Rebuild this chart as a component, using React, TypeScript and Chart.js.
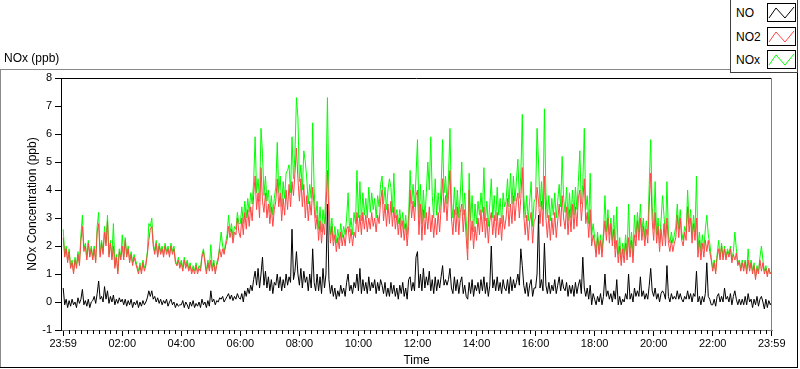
import React, { useEffect, useRef } from "react";
import { Chart, registerables } from "chart.js";

Chart.register(...registerables);

// Sampling step of the series below (minutes after 23:59 of the previous day)
const SAMPLE_STEP_MIN = 3;

// NO2 (ppb), one row per hour (20 samples of 3 min), last value = 23:59
const NO2_VALUES = [
  2.3, 1.6, 1.9, 1.4, 1.8, 1.2, 1.4, 1.0, 1.5, 1.2, 1.7, 1.3, 2.2, 2.7, 1.8, 2.0, 1.5, 2.1, 1.6, 1.9,
  1.5, 1.9, 1.4, 2.5, 2.8, 1.6, 2.1, 1.7, 2.5, 2.0, 2.9, 1.6, 2.1, 1.5, 2.0, 1.2, 1.6, 1.0, 1.8, 1.5,
  2.0, 1.5, 2.2, 1.6, 1.9, 1.4, 1.7, 1.3, 1.6, 1.4, 1.2, 1.0, 1.3, 1.0, 1.4, 1.1, 1.3, 1.7, 2.2, 2.6,
  2.7, 2.0, 1.7, 2.1, 1.6, 2.0, 1.7, 1.9, 1.6, 2.0, 1.7, 1.9, 1.6, 2.0, 1.7, 1.9, 1.4, 1.3, 1.5, 1.2,
  1.4, 1.1, 1.5, 1.2, 1.4, 1.1, 1.3, 1.0, 1.2, 1.0, 1.3, 1.0, 1.2, 1.1, 1.6, 1.8, 1.4, 1.0, 1.4, 1.1,
  1.5, 1.1, 1.4, 1.0, 1.3, 1.5, 1.9, 1.6, 1.9, 1.7, 2.0, 2.2, 2.7, 2.3, 2.6, 2.1, 2.5, 2.4, 3.0, 2.5,
  2.3, 3.0, 2.4, 3.2, 2.6, 3.3, 2.7, 3.4, 2.9, 3.8, 4.5, 3.3, 3.9, 3.0, 4.8, 3.6, 3.2, 3.9, 3.0, 3.5,
  2.8, 3.4, 2.7, 3.3, 3.6, 4.4, 3.4, 3.9, 2.9, 3.7, 3.1, 4.0, 3.3, 4.2, 3.4, 4.3, 3.8, 4.6, 5.5, 4.4,
  3.6, 4.4, 3.4, 4.2, 3.0, 3.8, 2.9, 3.6, 3.1, 4.1, 3.4, 2.6, 3.1, 2.2, 2.9, 2.1, 2.8, 2.4, 3.3, 4.7,
  3.0, 2.1, 2.7, 2.0, 2.4, 1.8, 2.3, 1.9, 2.5, 2.0, 2.4, 2.0, 2.6, 2.7, 2.1, 2.6, 2.0, 2.5, 2.3, 3.2,
  2.5, 3.1, 2.4, 3.2, 2.6, 3.1, 2.5, 3.0, 2.6, 3.2, 2.7, 3.0, 2.5, 3.1, 2.8, 3.6, 4.0, 2.9, 3.5, 2.7,
  3.5, 2.8, 3.6, 2.7, 3.4, 2.6, 3.1, 2.4, 3.0, 2.3, 2.9, 2.2, 2.8, 2.0, 2.7, 4.0, 3.0, 3.6, 2.9, 3.8,
  4.0, 2.4, 3.5, 2.2, 3.3, 2.4, 3.2, 2.6, 3.4, 2.5, 3.1, 2.3, 3.0, 2.4, 3.2, 2.5, 3.4, 4.4, 3.2, 3.8,
  2.9, 3.8, 4.7, 3.0, 2.4, 3.3, 2.5, 3.4, 2.4, 3.2, 3.5, 2.5, 3.3, 2.3, 1.5, 4.0, 2.2, 2.9, 1.9, 2.7,
  2.2, 3.0, 2.4, 3.3, 2.5, 3.4, 2.3, 3.0, 2.1, 2.9, 3.2, 2.4, 3.1, 2.3, 3.2, 2.4, 3.0, 2.2, 3.1, 2.6,
  3.0, 3.7, 2.7, 3.5, 2.8, 3.8, 2.9, 3.6, 3.9, 3.0, 3.7, 4.8, 3.1, 2.4, 3.1, 2.2, 2.9, 3.2, 2.1, 2.9,
  3.0, 4.1, 3.6, 2.8, 3.6, 2.7, 4.5, 3.0, 2.3, 3.1, 2.2, 3.0, 2.4, 3.2, 2.3, 2.9, 3.5, 2.7, 3.8, 3.0,
  2.6, 3.4, 2.4, 3.3, 2.5, 3.5, 2.6, 3.4, 2.7, 3.7, 4.0, 2.9, 3.6, 4.4, 2.8, 3.2, 2.3, 3.3, 2.0, 2.4,
  2.1, 1.6, 2.3, 1.7, 2.2, 1.6, 2.3, 2.9, 2.2, 3.0, 2.1, 2.8, 2.0, 2.6, 1.6, 2.2, 1.4, 2.0, 1.3, 1.9,
  1.4, 2.1, 1.5, 2.3, 1.6, 2.2, 1.4, 2.4, 2.0, 2.9, 2.2, 3.0, 2.2, 2.7, 2.0, 2.6, 2.1, 3.5, 4.6, 2.9,
  2.2, 3.2, 2.1, 2.7, 1.8, 2.6, 2.0, 2.8, 2.0, 3.0, 2.1, 1.8, 2.2, 1.8, 2.1, 2.3, 3.1, 2.3, 3.0, 2.2,
  2.0, 2.5, 2.2, 3.4, 2.5, 3.0, 2.1, 2.8, 2.2, 3.0, 1.6, 2.2, 1.5, 2.1, 1.6, 2.2, 1.8, 2.2, 1.8, 1.5,
  1.1, 1.4, 1.0, 1.6, 1.9, 1.5, 2.0, 1.5, 1.9, 1.5, 1.8, 1.6, 1.9, 1.4, 1.7, 1.5, 1.75, 1.3, 1.45, 1.1,
  1.4, 1.1, 1.45, 1.0, 1.5, 1.1, 1.4, 1.0, 1.3, 0.8, 1.2, 1.0, 1.5, 1.1, 1.4, 1.0, 1.2, 0.9, 1.2, 1.0,
  1.1,
];

// NOx (ppb)
const NOX_VALUES = [
  2.6, 1.7, 2.0, 1.5, 1.9, 1.3, 1.5, 1.1, 1.6, 1.3, 1.8, 1.4, 2.4, 3.1, 1.9, 2.1, 1.6, 2.2, 1.7, 2.0,
  1.6, 2.0, 1.5, 2.7, 3.2, 1.7, 2.2, 1.8, 2.7, 2.1, 3.1, 1.7, 2.2, 1.6, 2.8, 1.3, 1.7, 1.1, 1.9, 1.6,
  2.4, 1.6, 2.3, 1.7, 2.0, 1.5, 1.8, 1.4, 1.7, 1.5, 1.3, 1.1, 1.4, 1.1, 1.5, 1.2, 1.4, 1.8, 2.8, 2.7,
  3.0, 2.1, 1.8, 2.2, 1.7, 2.1, 1.8, 2.0, 1.7, 2.1, 1.8, 2.0, 1.7, 2.1, 1.8, 2.0, 1.5, 1.3, 1.6, 1.3,
  1.5, 1.2, 1.6, 1.3, 1.5, 1.2, 1.4, 1.1, 1.3, 1.1, 1.4, 1.1, 1.3, 1.2, 1.7, 1.9, 1.5, 1.1, 1.5, 1.2,
  2.05, 1.2, 1.5, 1.1, 1.4, 1.6, 2.0, 2.5, 2.0, 1.8, 2.1, 2.4, 3.1, 2.5, 2.8, 2.3, 2.7, 2.6, 3.2, 2.8,
  2.8, 3.4, 2.8, 3.6, 3.0, 3.7, 3.2, 3.9, 3.5, 4.3, 5.9, 3.9, 4.4, 3.6, 6.2, 5.3, 3.8, 4.5, 3.6, 4.0,
  3.2, 3.8, 3.1, 3.7, 4.1, 5.7, 3.9, 4.5, 3.4, 4.3, 3.7, 4.6, 4.7, 4.9, 3.9, 5.9, 4.4, 5.3, 7.3, 6.6,
  4.3, 4.9, 4.0, 5.4, 5.0, 4.4, 3.5, 4.2, 3.7, 6.4, 4.0, 3.0, 3.6, 2.6, 3.4, 2.5, 3.3, 2.8, 4.0, 7.3,
  3.6, 2.4, 3.0, 2.2, 2.7, 2.1, 2.6, 2.2, 2.8, 2.3, 2.7, 2.4, 3.0, 3.9, 2.5, 3.0, 2.4, 3.2, 2.8, 4.7,
  3.0, 4.3, 2.9, 3.9, 3.1, 3.7, 3.0, 4.1, 3.2, 3.9, 3.3, 3.7, 3.0, 3.8, 3.4, 4.2, 4.5, 3.5, 4.1, 3.3,
  4.0, 4.4, 4.1, 3.2, 4.6, 3.0, 3.3, 2.8, 3.3, 2.7, 3.2, 2.6, 3.1, 2.4, 3.1, 4.7, 3.5, 4.2, 3.4, 4.5,
  5.8, 3.0, 4.2, 2.8, 4.0, 3.0, 3.9, 5.0, 4.0, 5.9, 3.8, 3.0, 4.4, 3.1, 3.9, 3.2, 4.1, 5.8, 3.9, 4.5,
  3.5, 4.4, 6.2, 3.6, 3.0, 4.1, 3.1, 4.0, 3.0, 3.8, 5.0, 3.1, 3.9, 2.9, 1.9, 4.6, 2.9, 3.8, 2.5, 3.5,
  2.8, 3.6, 3.1, 3.9, 3.2, 4.8, 2.9, 3.6, 2.7, 3.5, 4.4, 3.0, 3.8, 2.9, 4.1, 3.1, 3.7, 2.8, 3.9, 3.4,
  3.6, 4.4, 3.4, 4.6, 3.5, 4.5, 3.6, 4.3, 5.1, 3.7, 4.5, 6.7, 3.8, 3.0, 3.8, 2.9, 3.6, 4.3, 2.7, 3.6,
  3.7, 6.2, 5.0, 3.4, 4.3, 3.3, 6.9, 3.9, 3.0, 3.8, 2.9, 3.7, 3.1, 3.9, 3.0, 3.6, 4.2, 3.4, 5.2, 3.7,
  3.2, 4.1, 2.9, 3.9, 3.0, 4.0, 3.1, 4.1, 3.3, 4.3, 5.4, 3.5, 4.2, 6.2, 3.3, 3.8, 2.8, 4.6, 2.4, 2.8,
  2.3, 1.8, 2.5, 1.9, 2.4, 1.8, 2.5, 3.8, 2.5, 3.3, 2.4, 3.0, 2.2, 3.1, 1.9, 3.4, 1.7, 2.3, 1.5, 2.1,
  1.7, 2.4, 1.7, 3.5, 1.9, 2.5, 1.7, 3.1, 2.3, 3.2, 2.5, 3.5, 2.5, 3.0, 2.3, 2.9, 2.4, 4.2, 5.8, 3.4,
  2.6, 4.3, 2.4, 3.0, 2.1, 2.9, 3.8, 3.1, 2.3, 4.3, 2.4, 2.1, 2.5, 2.1, 2.4, 2.7, 3.5, 2.6, 3.3, 2.5,
  2.2, 2.7, 2.5, 4.0, 2.8, 3.3, 2.4, 3.1, 2.5, 4.5, 1.9, 2.5, 1.8, 2.4, 1.9, 2.6, 3.1, 2.4, 2.1, 1.6,
  1.2, 1.5, 1.1, 1.7, 2.2, 1.6, 2.1, 1.6, 2.0, 1.6, 1.9, 1.7, 2.0, 1.5, 1.8, 2.5, 1.9, 1.4, 1.5, 1.2,
  1.5, 1.2, 1.5, 1.1, 1.9, 1.2, 1.5, 1.1, 1.4, 0.9, 1.3, 1.1, 1.6, 2.0, 1.5, 1.1, 1.3, 1.0, 1.2, 1.0,
  1.1,
];

// NO (ppb)
const NO_VALUES = [
  0.5, -0.1, 0.1, -0.2, 0.05, -0.15, 0.1, -0.1, 0.0, -0.2, 0.15, -0.05, 0.1, 0.45, -0.1, 0.05, -0.15, 0.1, -0.2, 0.0,
  0.05, 0.2, -0.05, 0.3, 0.75, 0.1, 0.2, 0.0, 0.55, 0.1, 0.4, -0.05, 0.2, 0.0, 0.25, -0.1, 0.1, -0.05, 0.15, 0.0,
  0.1, -0.1, 0.1, -0.15, 0.05, -0.1, 0.1, -0.2, 0.0, -0.1, 0.05, -0.2, 0.0, -0.15, 0.05, -0.1, 0.0, 0.15, 0.4, 0.2,
  0.4, 0.1, 0.2, 0.0, 0.15, -0.05, 0.1, -0.1, 0.05, -0.05, 0.1, -0.15, 0.0, 0.1, -0.1, 0.0, -0.2, -0.05, -0.15, -0.1,
  -0.1, 0.05, -0.2, 0.0, -0.1, -0.25, 0.0, -0.15, 0.05, -0.2, -0.05, -0.15, 0.0, -0.2, 0.1, -0.1, 0.0, -0.2, 0.05, -0.15,
  0.4, 0.0, 0.1, -0.1, 0.05, 0.0, 0.15, 0.1, 0.2, 0.0, 0.1, 0.2, 0.3, 0.1, 0.25, 0.05, 0.2, 0.1, 0.3, 0.15,
  0.1, 0.3, 0.0, 0.4, 0.2, 0.5, 0.3, 0.6, 0.4, 0.8, 1.1, 0.6, 1.2, 0.5, 1.0, 1.6, 0.6, 1.1, 0.5, 0.9,
  0.4, 0.8, 0.3, 0.7, 0.6, 1.0, 0.5, 0.9, 0.4, 0.8, 0.5, 1.0, 0.6, 0.9, 0.7, 2.6, 0.8, 1.1, 1.8, 1.0,
  0.6, 1.2, 0.5, 1.1, 0.7, 0.9, 0.4, 1.0, 0.5, 1.9, 0.7, 0.4, 1.0, 0.4, 0.9, 0.3, 1.2, 0.5, 1.0, 3.5,
  0.8, 0.3, 0.6, 0.2, 0.5, 0.1, 0.4, 0.2, 0.6, 0.3, 0.5, 0.2, 0.7, 1.0, 0.4, 0.6, 0.3, 0.7, 0.5, 1.0,
  0.4, 1.2, 0.3, 0.8, 0.4, 0.7, 0.3, 0.9, 0.4, 0.7, 0.5, 0.8, 0.3, 0.7, 0.4, 0.8, 0.6, 0.3, 0.7, 0.2,
  0.5, 0.2, 0.7, 0.3, 0.6, 0.2, 0.5, 0.1, 0.6, 0.3, 0.7, 0.2, 0.5, 0.1, 0.8, 0.9, 0.4, 0.7, 0.4, 1.6,
  1.8, 0.5, 1.0, 0.4, 1.2, 0.5, 0.9, 0.6, 1.1, 0.4, 0.8, 0.3, 0.9, 0.4, 0.8, 0.5, 0.9, 1.3, 0.6, 0.8,
  0.6, 0.8, 1.2, 0.5, 0.3, 0.9, 0.4, 0.8, 0.3, 0.7, 0.9, 0.3, 0.6, 0.2, 0.1, 0.7, 0.3, 0.8, 0.2, 0.6,
  0.4, 0.7, 0.3, 0.8, 0.4, 0.9, 0.3, 0.7, 0.2, 0.6, 2.0, 0.5, 0.8, 0.4, 0.9, 0.4, 0.7, 0.3, 0.8, 0.5,
  0.4, 0.8, 0.3, 0.9, 0.4, 0.8, 0.5, 0.7, 1.0, 0.6, 1.9, 1.3, 0.6, 0.3, 0.7, 0.2, 0.6, 0.8, 0.2, 0.5,
  0.5, 1.0, 3.1, 0.5, 0.8, 0.4, 2.1, 0.6, 0.3, 0.7, 0.3, 0.6, 0.4, 0.8, 0.3, 0.6, 0.9, 0.4, 0.8, 0.5,
  0.4, 0.7, 0.2, 0.6, 0.3, 0.6, 0.2, 0.7, 0.3, 0.6, 0.8, 0.3, 1.6, 0.5, 0.2, 0.5, 0.1, 0.6, -0.1, 0.3,
  0.1, -0.1, 0.2, 0.0, 0.3, -0.1, 0.2, 1.0, 0.2, 0.4, 0.1, 0.3, 0.0, 0.4, 0.1, 0.8, -0.1, 0.2, -0.1, 0.1,
  0.0, 0.3, 0.1, 1.0, 0.1, 0.3, 0.0, 0.5, 0.2, 0.4, 0.2, 0.9, 0.2, 0.4, 0.1, 0.3, 0.1, 0.6, 1.2, 0.4,
  0.2, 0.5, 0.1, 0.3, 0.0, 0.3, 0.4, 0.3, 0.1, 1.3, 0.2, 0.0, 0.3, 0.1, 0.2, 0.1, 0.4, 0.1, 0.3, 0.1,
  0.0, 0.2, 0.1, 0.4, 0.1, 0.3, 0.0, 0.3, 0.2, 1.1, 0.0, 0.2, -0.1, 0.2, 0.0, 0.3, 1.4, 0.2, 0.1, -0.1,
  -0.1, 0.1, -0.15, 0.2, 0.3, 0.0, 0.2, 0.0, 0.5, 0.1, 0.2, 0.0, 0.3, -0.1, 0.2, 0.4, 0.1, -0.1, 0.1, -0.1,
  0.1, -0.1, 0.2, -0.1, 0.3, 0.0, 0.1, -0.2, 0.1, -0.1, 0.2, -0.15, 0.1, 0.2, 0.0, -0.25, 0.1, -0.2, 0.05, -0.1,
  0.0,
];

// Axis ticks
const X_MAJOR_TICKS = [0, 120, 240, 360, 480, 600, 720, 840, 960, 1080, 1200, 1320, 1440];
const X_TICK_LABELS = ["23:59", "02:00", "04:00", "06:00", "08:00", "10:00", "12:00", "14:00", "16:00", "18:00", "20:00", "22:00", "23:59"];
const X_MINOR_STEP = 12;
const Y_TICKS = [-1, 0, 1, 2, 3, 4, 5, 6, 7, 8];

const SERIES_NAMES = ["NO", "NO2", "NOx"];
const SERIES_COLORS = ["#000000", "#ff4545", "#00ff00"];

const FONT = "'Liberation Sans', Arial, sans-serif";

const framePlugin = {
  id: "labviewFrame",
  afterDraw(chart: any) {
    const { ctx, chartArea } = chart;
    const { left, right, top, bottom } = chartArea;
    const xs = chart.scales.x;
    ctx.save();
    ctx.lineWidth = 1;
    ctx.strokeStyle = "#000";
    ctx.beginPath();
    ctx.moveTo(left, Math.round(top) + 0.5);
    ctx.lineTo(right, Math.round(top) + 0.5);
    ctx.stroke();
    ctx.strokeStyle = "#808080";
    ctx.beginPath();
    ctx.moveTo(Math.round(right) - 0.5, top);
    ctx.lineTo(Math.round(right) - 0.5, bottom);
    ctx.stroke();
    ctx.strokeStyle = "#000";
    ctx.beginPath();
    for (let m = 0; m <= 1440; m += X_MINOR_STEP) {
      if (X_MAJOR_TICKS.includes(m)) continue;
      const px = Math.round(xs.getPixelForValue(m)) + 0.5;
      ctx.moveTo(px, Math.round(bottom));
      ctx.lineTo(px, Math.round(bottom) + 4);
    }
    ctx.stroke();
    ctx.restore();
  },
};

function Swatch({ color }: { color: string }) {
  return (
    <svg width={29} height={19} style={{ display: "block" }}>
      <rect x={0.5} y={0.5} width={28} height={18} fill="#fff" stroke="#000" strokeWidth={1} />
      <polyline points="2,15 9,5 18,15 27,4" fill="none" stroke={color} strokeWidth={1} />
    </svg>
  );
}

export default function App() {
  const ref = useRef<HTMLCanvasElement | null>(null);

  useEffect(() => {
    if (!ref.current) return;
    const minutes = NO_VALUES.map((_, i) => i * SAMPLE_STEP_MIN);
    const pts = (vals: number[]) => vals.map((v, i) => ({ x: minutes[i], y: v }));
    const seriesValues = [NO_VALUES, NO2_VALUES, NOX_VALUES];

    const chart = new Chart(ref.current, {
      type: "line",
      data: {
        datasets: SERIES_NAMES.map((name, k) => ({
          label: name,
          data: pts(seriesValues[k]),
          borderColor: SERIES_COLORS[k],
          backgroundColor: SERIES_COLORS[k],
          borderWidth: 1,
          pointRadius: 0,
          tension: 0,
          fill: false,
        })),
      },
      options: {
        animation: false,
        responsive: false,
        devicePixelRatio: 1,
        events: [],
        layout: { padding: { left: 0, right: 28, top: 78, bottom: 0 } },
        plugins: {
          legend: { display: false },
          tooltip: { enabled: false },
          title: { display: false },
        },
        scales: {
          x: {
            type: "linear",
            min: -4.5,
            max: 1440.5,
            afterFit: (s: any) => {
              s.height = 39;
            },
            afterBuildTicks: (s: any) => {
              s.ticks = X_MAJOR_TICKS.map((v) => ({ value: v }));
            },
            ticks: {
              autoSkip: false,
              maxRotation: 0,
              padding: 1,
              color: "#000",
              font: { family: FONT, size: 11 },
              callback: (v: any) => {
                const i = X_MAJOR_TICKS.indexOf(Number(v));
                return i >= 0 ? X_TICK_LABELS[i] : "";
              },
            },
            grid: { drawOnChartArea: false, drawTicks: true, tickLength: 6, tickColor: "#000" },
            border: { display: true, color: "#808080" },
            title: {
              display: true,
              text: "Time",
              color: "#000",
              font: { family: FONT, size: 12 },
              padding: { top: 0, bottom: 1 },
            },
          },
          y: {
            type: "linear",
            min: -1,
            max: 8,
            afterFit: (s: any) => {
              s.width = 61;
            },
            afterBuildTicks: (s: any) => {
              s.ticks = Y_TICKS.map((v) => ({ value: v }));
            },
            ticks: {
              padding: 3,
              color: "#000",
              font: { family: FONT, size: 11 },
            },
            grid: { drawOnChartArea: false, drawTicks: true, tickLength: 6, tickColor: "#000" },
            border: { display: true, color: "#000" },
            title: {
              display: true,
              text: "NOx Concentration (ppb)",
              color: "#000",
              font: { family: FONT, size: 12 },
              padding: { top: 25, bottom: 0 },
            },
          },
        },
      },
      plugins: [framePlugin],
    } as any);
    return () => chart.destroy();
  }, []);

  const textStyle: React.CSSProperties = {
    position: "absolute",
    fontFamily: FONT,
    fontSize: 12,
    lineHeight: "14px",
    color: "#000",
    whiteSpace: "nowrap",
  };
  const swatchTops = [3, 27, 50];

  return (
    <div style={{ position: "absolute", left: 0, top: 0, width: 800, height: 369, background: "#fff", overflow: "hidden" }}>
      <canvas ref={ref} width={800} height={369} style={{ position: "absolute", left: 0, top: 0, width: 800, height: 369 }} />
      {/* outer frame */}
      <div style={{ position: "absolute", left: 0, top: 69, width: 730, height: 1, background: "#8a8a8a" }} />
      <div style={{ position: "absolute", left: 0, top: 69, width: 1, height: 299, background: "#8a8a8a" }} />
      <div style={{ position: "absolute", left: 0, top: 367, width: 798, height: 1, background: "#000" }} />
      <div style={{ position: "absolute", left: 797, top: 72, width: 1, height: 296, background: "#000" }} />
      {/* y-axis caption */}
      <div style={{ ...textStyle, left: 4, top: 51 }}>NOx (ppb)</div>
      {/* legend */}
      <div
        style={{
          position: "absolute",
          left: 730,
          top: 0,
          width: 68,
          height: 73,
          boxSizing: "border-box",
          borderLeft: "1px solid #404040",
          borderRight: "1px solid #404040",
          borderBottom: "1px solid #404040",
          background: "#fff",
        }}
      />
      {SERIES_NAMES.map((name, k) => (
        <React.Fragment key={name}>
          <div style={{ ...textStyle, left: 736, top: swatchTops[k] + 2.5 }}>{name}</div>
          <div style={{ position: "absolute", left: 767, top: swatchTops[k] }}>
            <Swatch color={SERIES_COLORS[k]} />
          </div>
        </React.Fragment>
      ))}
    </div>
  );
}
